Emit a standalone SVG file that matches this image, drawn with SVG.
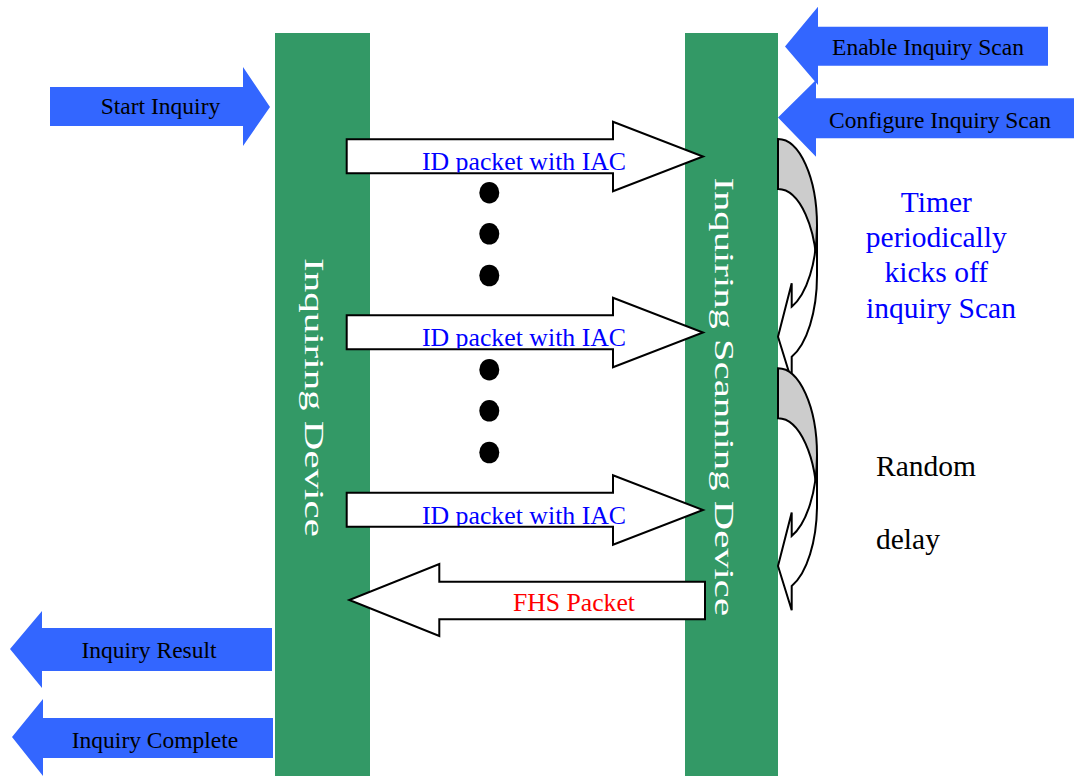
<svg xmlns="http://www.w3.org/2000/svg" width="1074" height="776" viewBox="0 0 1074 776">
<style>
  .bar { fill: #339966; }
  .blue { fill: #3366FF; }
  .pkt { fill: #FFFFFF; stroke: #000000; stroke-width: 2; stroke-linejoin: miter; }
  .curl-back { fill: #CCCCCC; stroke: #000000; stroke-width: 2; }
  .curl-front { fill: #FFFFFF; stroke: #000000; stroke-width: 2; }
  .lbl { font-family: "Liberation Serif", "Times New Roman", serif; font-size: 23.5px; fill: #000000; text-anchor: middle; }
  .pl { font-family: "Liberation Serif", "Times New Roman", serif; font-size: 25.8px; fill: #0000FF; text-anchor: middle; }
  .fhs { font-family: "Liberation Serif", "Times New Roman", serif; font-size: 25.7px; fill: #FF0000; text-anchor: middle; }
  .vt { font-family: "Liberation Serif", "Times New Roman", serif; font-size: 27.7px; fill: #FFFFFF; text-anchor: middle; }
  .note { font-family: "Liberation Serif", "Times New Roman", serif; font-size: 29.5px; }
  .dot { fill: #000000; }
</style>
<defs>
  <clipPath id="c1"><rect x="347" y="140" width="360" height="32.5"/></clipPath>
  <clipPath id="c2"><rect x="347" y="316" width="360" height="32.5"/></clipPath>
  <clipPath id="c3"><rect x="347" y="493.5" width="360" height="32.5"/></clipPath>
</defs>
<rect width="1074" height="776" fill="#FFFFFF"/>

<g id="inquiring-device">
  <rect class="bar" x="275" y="33" width="95" height="743"/>
  <text class="vt" transform="translate(305,397.5) rotate(90) scale(1.48,1)" x="0" y="0">Inquiring Device</text>
</g>

<g id="inquiring-scanning-device">
  <rect class="bar" x="685" y="33" width="93" height="743"/>
  <text class="vt" transform="translate(715,396.7) rotate(90) scale(1.47,1)" x="0" y="0">Inquiring Scanning Device</text>
</g>

<g id="start-inquiry">
  <path class="blue" d="M50,87 H243 V67 L270,107 L243,146 V126 H50 Z"/>
  <text class="lbl" x="160.5" y="114">Start Inquiry</text>
</g>

<g id="enable-inquiry-scan">
  <path class="blue" d="M1048,26.7 H818 V6.7 L785,46.5 L818,85 V65.7 H1048 Z"/>
  <text class="lbl" x="928" y="55">Enable Inquiry Scan</text>
</g>

<g id="configure-inquiry-scan">
  <path class="blue" d="M1076,98.3 H816 V80 L778,117.5 L816,156.7 V138.3 H1076 Z"/>
  <text class="lbl" x="940" y="127.7">Configure Inquiry Scan</text>
</g>

<g id="inquiry-result">
  <path class="blue" d="M272,628 H42 V611 L10,649 L42,688 V671 H272 Z"/>
  <text class="lbl" x="149" y="658.3">Inquiry Result</text>
</g>

<g id="inquiry-complete">
  <path class="blue" d="M273,718 H43 V699 L12,737 L43,776 V758 H273 Z"/>
  <text class="lbl" x="155" y="747.7">Inquiry Complete</text>
</g>

<g id="connectors">
  <g id="id-packet-1">
    <path class="pkt" d="M346.7,139.3 H613 V121.7 L703,156.5 L613,191.3 V173.3 H346.7 Z"/>
    <text class="pl" x="524" y="170" clip-path="url(#c1)">ID packet with IAC</text>
  </g>
  <g id="id-packet-2">
    <path class="pkt" d="M346.7,315.3 H613 V297.7 L703,332.5 L613,367.3 V349.3 H346.7 Z"/>
    <text class="pl" x="524" y="346" clip-path="url(#c2)">ID packet with IAC</text>
  </g>
  <g id="id-packet-3">
    <path class="pkt" d="M346.7,492.8 H613 V475.2 L703,510 L613,544.8 V526.8 H346.7 Z"/>
    <text class="pl" x="524" y="523.5" clip-path="url(#c3)">ID packet with IAC</text>
  </g>
  <g id="fhs-packet">
    <path class="pkt" d="M705,581.7 H439.3 V564 L349.3,600 L439.3,636 V619.3 H705 Z"/>
    <text class="fhs" x="574" y="610.5">FHS Packet</text>
  </g>
</g>

<g id="ellipsis-1">
  <ellipse class="dot" cx="489.3" cy="192.7" rx="10" ry="10.8"/>
  <ellipse class="dot" cx="489.3" cy="233.8" rx="10" ry="10.8"/>
  <ellipse class="dot" cx="489.3" cy="275.5" rx="10" ry="10.8"/>
</g>
<g id="ellipsis-2">
  <ellipse class="dot" cx="489.3" cy="369.7" rx="10" ry="10.8"/>
  <ellipse class="dot" cx="489.3" cy="410.8" rx="10" ry="10.8"/>
  <ellipse class="dot" cx="489.3" cy="452.5" rx="10" ry="10.8"/>
</g>

<g id="timer-curl-1">
  <path class="curl-back" d="M778,139 A39,86.6 0 0 1 817,225.6 L817,275.6 A39,86.6 0 0 0 778,189 Z"/>
  <path class="curl-front" d="M817,225.6 A39,86.6 0 0 1 791.7,306.7 L791.7,283.3 L778,336.7 L791.7,381 L791.7,356.7 A39,86.6 0 0 0 817,275.6 Z"/>
</g>
<g id="timer-curl-2">
  <path class="curl-back" d="M778,368.3 A39,86.6 0 0 1 817,454.9 L817,504.9 A39,86.6 0 0 0 778,418.3 Z"/>
  <path class="curl-front" d="M817,454.9 A39,86.6 0 0 1 791.7,536 L791.7,512.6 L778,566 L791.7,610.3 L791.7,586 A39,86.6 0 0 0 817,504.9 Z"/>
</g>

<g id="timer-note">
  <text class="note" fill="#0000FF" text-anchor="middle">
    <tspan x="940" y="211.7">Timer</tspan>
    <tspan x="940" y="246.7">periodically</tspan>
    <tspan x="940" y="281.7">kicks off</tspan>
    <tspan x="941" y="318.3">inquiry Scan</tspan>
  </text>
</g>

<g id="random-delay">
  <text class="note" fill="#000000">
    <tspan x="876" y="476">Random</tspan>
    <tspan x="876" y="549.3">delay</tspan>
  </text>
</g>
</svg>
